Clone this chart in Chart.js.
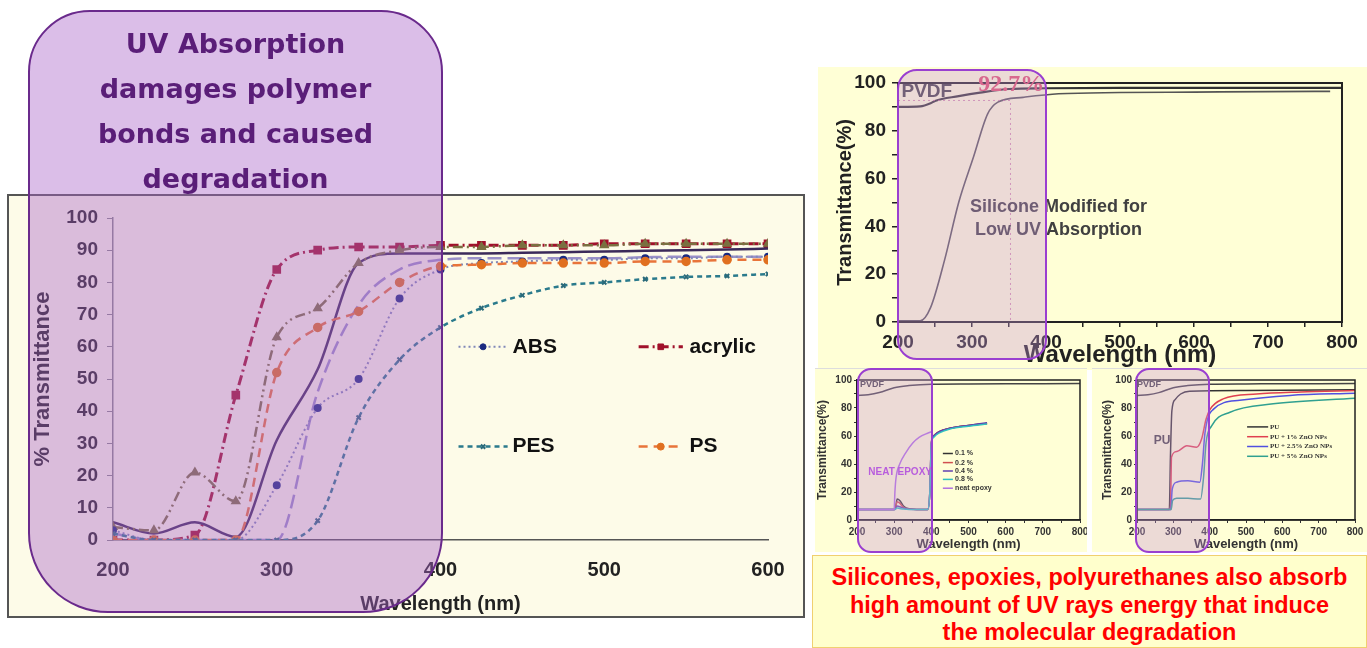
<!DOCTYPE html>
<html>
<head>
<meta charset="utf-8">
<script src="https://cdn.jsdelivr.net/npm/chart.js@4.4.0/dist/chart.umd.min.js"></script>
<style>
  body { margin: 0; width: 1367px; height: 648px; background: #fff; position: relative; overflow: hidden;
         font-family: "Liberation Sans", Arial, sans-serif; }
  .panel { position: absolute; box-sizing: border-box; }
  canvas { display: block; }
  #main { left: 7px; top: 194px; width: 798px; height: 424px; border: 2px solid #555; background: #fdfbe8; }
  #top { left: 818px; top: 67px; width: 549px; height: 303px; background: #ffffd6; }
  #epoxy { left: 815px; top: 368px; width: 272px; height: 184px; background: #ffffd6; border-top: 1px solid #ddd; }
  #pu { left: 1092px; top: 368px; width: 275px; height: 184px; background: #ffffd6; border-top: 1px solid #ddd; }
  .hl { position: absolute; box-sizing: border-box; border: 2.5px solid #9a3fd0; background: rgba(200,150,215,0.35); border-radius: 14px; }
  #uvBox { position: absolute; box-sizing: border-box; left: 28px; top: 10px; width: 415px; height: 603px;
           border: 2px solid #6a2a8c; background: rgba(170,100,200,0.42); border-radius: 62px 62px 80px 80px; }
  #uvBox div { text-align: center; color: #5a1e78; font: bold 27px "DejaVu Sans", sans-serif; line-height: 45px; margin-top: 9px; }
  #note { left: 812px; top: 555px; width: 555px; height: 93px; background: #ffffcc; border: 1px solid #f0d070;
          color: #ff0000; font: bold 23.5px "Liberation Sans", Arial, sans-serif; text-align: center; line-height: 27.5px; padding-top: 8px; }
</style>
</head>
<body>
<div id="main" class="panel"><canvas id="cMain" width="794" height="420"></canvas></div>
<div id="top" class="panel"><canvas id="cTop" width="549" height="303"></canvas></div>
<div id="epoxy" class="panel"><canvas id="cEpoxy" width="272" height="183"></canvas></div>
<div id="pu" class="panel"><canvas id="cPu" width="275" height="183"></canvas></div>
<div id="note" class="panel">Silicones, epoxies, polyurethanes also absorb<br>high amount of UV rays energy that induce<br>the molecular degradation</div>
<div class="hl" style="left:897px; top:69px; width:150px; height:291px; border-radius:20px;"></div>
<div class="hl" style="left:857px; top:368px; width:76px; height:185px;"></div>
<div class="hl" style="left:1135px; top:368px; width:75px; height:185px;"></div>
<div id="uvBox"><div>UV Absorption<br>damages polymer<br>bonds and caused<br>degradation</div></div>

<script>
// ---- main chart: % transmittance of polymer films ----
const wl = [200, 225, 250, 275, 300, 325, 350, 375, 400, 425, 450, 475, 500, 525, 550, 575, 600];
const absT      = [3, 0, 0, 0, 17, 41, 50, 75, 84, 86, 86.5, 87, 87, 87.5, 87.5, 88, 88];
const acrylicT  = [0, 0, 1.5, 45, 84, 90, 91, 91, 91.5, 91.5, 91.5, 91.5, 92, 92, 92, 92, 92];
const pesT      = [2, 0, 0, 0, 0, 6, 38, 56, 66, 72, 76, 79, 80, 81, 81.7, 82, 82.6];
const psT       = [0, 0, 0, 0, 52, 66, 71, 80, 85, 85.5, 86, 86, 86, 86.5, 86.5, 87, 87];
const oliveT    = [4, 3, 21, 12, 63, 72, 86, 90, 91, 91, 91.5, 91.5, 91.5, 92, 92, 92, 92];
const solidT    = [5.5, 2, 5.5, 1, 31, 53, 86, 89, 89, 89, 89.2, 89.4, 89.6, 89.8, 90, 90.2, 90.5];
const longDashT = [2, 0, 0, 0, 0, 46, 73, 84, 87, 87.5, 87.5, 87.5, 87.5, 87.8, 88, 88, 88];

// ---- top right: PVDF vs modified silicone ----
const pvdfWl = [200, 230, 244, 250, 282, 311, 350, 400, 500, 600, 700, 800];
const pvdfT  = [90, 90.2, 91.5, 92.5, 94.5, 96, 97.5, 97.8, 98, 98, 98, 98];
const silWl  = [200, 230, 244, 263, 282, 302, 321, 335, 369, 417, 500, 600, 700, 784];
const silT   = [0.5, 0.5, 6, 26, 50, 69, 87, 92, 94, 95.5, 96, 96.2, 96.4, 96.5];
const guideWl = [200, 352, 352];
const guideT  = [92.7, 92.7, 0];

// ---- bottom left: epoxy nanocomposites ----
const pvdfSmWl = [200, 230, 260, 300, 340, 400, 500, 600, 700, 800];
const pvdfSmT  = [89, 89.5, 91, 94.5, 96, 97, 97.2, 97.3, 97.4, 97.5];
const epWl  = [200, 300, 303, 308, 315, 325, 340, 370, 390, 396, 400, 406, 420, 450, 500, 550];
const ep01  = [7.5, 7.5, 8, 15, 14, 10, 8, 7.5, 7.5, 20, 55, 60, 63, 65.5, 67.5, 69];
const ep02  = [7.5, 7.5, 8, 13, 12, 9, 7.8, 7.5, 7.5, 20, 55, 60, 63, 65.5, 67.5, 69];
const ep04  = [7.5, 7.5, 7.8, 10, 9.5, 8.5, 7.6, 7.5, 7.5, 20, 55, 60, 63, 65.5, 67.5, 69.5];
const ep08  = [7.5, 7.5, 7.6, 8.5, 8.2, 7.8, 7.5, 7.5, 7.5, 20, 54, 59, 62, 65, 67, 68.5];
const neatWl = [200, 300, 302, 305, 315, 331, 350, 367, 390, 400];
const neatT  = [7.5, 7.5, 20, 30, 40, 48, 55, 59, 62, 63];

// ---- bottom right: PU / ZnO ----
const puWl  = [200, 289, 292, 296, 305, 320, 345, 500, 800];
const puT   = [7.5, 7.5, 45, 78, 86, 90, 92, 92.5, 93];
const pu1Wl = [200, 292, 295, 310, 337, 364, 378, 390, 401, 437, 529, 650, 800];
const pu1T  = [7.5, 7.5, 45, 49, 53, 52, 58, 72, 79, 86.5, 90, 91.5, 92.5];
const pu25Wl = [200, 293, 297, 309, 340, 373, 380, 387, 410, 483, 621, 800];
const pu25T  = [7.5, 7.5, 22, 27, 28, 27, 40, 62, 79, 85.5, 89, 90.5];
const pu5Wl = [200, 294, 298, 309, 340, 375, 383, 390, 405, 456, 575, 800];
const pu5T  = [7.5, 7.5, 14, 15.6, 15.5, 15, 30, 55, 67, 77, 83, 87];

const pts = (xs, ys) => xs.map((v, i) => ({x: v, y: ys[i]}));

// text + legend keys drawn in data units
const notes = {
  id: 'notes',
  afterDatasetsDraw(chart, args, opts) {
    const {ctx, chartArea, scales: {x, y}} = chart;
    ctx.save();
    if (opts.frame) {
      ctx.strokeStyle = '#222'; ctx.lineWidth = opts.frame;
      ctx.strokeRect(chartArea.left, chartArea.top, chartArea.right - chartArea.left, chartArea.bottom - chartArea.top);
    }
    (opts.keys || []).forEach(k => {
      const ds = chart.data.datasets[k.ds];
      const x1 = x.getPixelForValue(k.x1), x2 = x.getPixelForValue(k.x2), py = y.getPixelForValue(k.y);
      ctx.strokeStyle = ds.borderColor; ctx.lineWidth = ds.borderWidth;
      ctx.setLineDash(ds.borderDash || []);
      ctx.beginPath(); ctx.moveTo(x1, py); ctx.lineTo(x2, py); ctx.stroke();
      ctx.setLineDash([]);
      if (ds.pointRadius) {
        ctx.fillStyle = ds.pointBackgroundColor; ctx.strokeStyle = ds.pointBorderColor || ds.pointBackgroundColor;
        ctx.lineWidth = ds.pointBorderWidth || 1;
        Chart.helpers.drawPoint(ctx, {pointStyle: ds.pointStyle, radius: ds.pointRadius, rotation: 0, borderWidth: ds.pointBorderWidth || 1}, (x1 + x2) / 2, py);
      }
      ctx.fillStyle = k.color || '#111'; ctx.font = k.font;
      ctx.textAlign = 'left'; ctx.textBaseline = 'middle';
      ctx.fillText(ds.label, x.getPixelForValue(k.tx), py);
    });
    (opts.texts || []).forEach(t => {
      ctx.fillStyle = t.color; ctx.font = t.font;
      ctx.textAlign = t.align || 'center'; ctx.textBaseline = 'middle';
      ctx.fillText(t.text, x.getPixelForValue(t.x), y.getPixelForValue(t.y));
    });
    ctx.restore();
  }
};

function line(label, data, color, width, dash, extra) {
  return Object.assign({label: label, data: data, borderColor: color, borderWidth: width, borderDash: dash,
    pointRadius: 0, fill: false, cubicInterpolationMode: 'monotone'}, extra || {});
}

function fitY(w) { return s => { s.width = w; s.paddingTop = 0; s.paddingBottom = 0; }; }
function fitX(h) { return s => { s.height = h; s.paddingLeft = 0; s.paddingRight = 0; }; }

// ---------- main chart ----------
new Chart(document.getElementById('cMain'), {
  type: 'line',
  data: {
    datasets: [
      line('PES', pts(wl, pesT), '#2a7a8c', 2.5, [5, 4], {pointRadius: 3, pointStyle: 'crossRot', pointBorderColor: '#2a6a7a', pointBackgroundColor: '#2a6a7a', pointBorderWidth: 2}),
      line('PS', pts(wl, psT), '#e8743a', 2.5, [9, 6], {pointRadius: 3.5, pointStyle: 'circle', pointBackgroundColor: '#e07020', pointBorderColor: '#e07020'}),
      line('ABS', pts(wl, absT), '#8088b8', 2, [2, 3], {pointRadius: 3, pointStyle: 'circle', pointBackgroundColor: '#1a2a80', pointBorderColor: '#1a2a80'}),
      line('', pts(wl, longDashT), '#9a90c8', 2.5, [14, 6]),
      line('', pts(wl, oliveT), '#7a7040', 2.5, [10, 4, 2, 4, 2, 4], {pointRadius: 3.5, pointStyle: 'triangle', pointBackgroundColor: '#7a7040', pointBorderColor: '#7a7040'}),
      line('', pts(wl, solidT), '#3b2a5a', 2.5, []),
      line('acrylic', pts(wl, acrylicT), '#a0102a', 3, [10, 4, 2, 4], {pointRadius: 4, pointStyle: 'rect', pointBackgroundColor: '#a0102a', pointBorderColor: '#a0102a'})
    ]
  },
  options: {
    responsive: false, animation: false,
    layout: {padding: {top: 22, right: 35, left: 0, bottom: 0}},
    plugins: {
      legend: {display: false}, tooltip: {enabled: false},
      notes: {
        keys: [
          {ds: 2, x1: 411, x2: 441, y: 60, tx: 444, font: 'bold 21px "Liberation Sans", Arial'},
          {ds: 6, x1: 521, x2: 548, y: 60, tx: 552, font: 'bold 21px "Liberation Sans", Arial'},
          {ds: 0, x1: 411, x2: 441, y: 29, tx: 444, font: 'bold 21px "Liberation Sans", Arial'},
          {ds: 1, x1: 521, x2: 548, y: 29, tx: 552, font: 'bold 21px "Liberation Sans", Arial'}
        ]
      }
    },
    scales: {
      x: {
        type: 'linear', min: 200, max: 600, afterFit: fitX(76),
        ticks: {stepSize: 100, padding: 18, color: '#222', font: {size: 20, weight: 'bold', family: '"Liberation Sans", Arial'}},
        grid: {drawOnChartArea: false, drawTicks: false},
        border: {color: '#555', width: 1.5},
        title: {display: true, text: 'Wavelength (nm)', color: '#222', padding: 0, font: {size: 20, weight: 'bold', family: '"Liberation Sans", Arial'}}
      },
      y: {
        min: 0, max: 100, afterFit: fitY(104),
        ticks: {stepSize: 10, padding: 9, color: '#222', font: {size: 19, weight: 'bold', family: '"Liberation Sans", Arial'}},
        grid: {drawOnChartArea: false, drawTicks: true, tickLength: 6, color: '#888'},
        border: {color: '#888', width: 1.5},
        title: {display: true, text: '% Transmittance', color: '#222', padding: {top: 21, bottom: 0}, font: {size: 22, weight: 'bold', family: '"Liberation Sans", Arial'}}
      }
    }
  },
  plugins: [notes]
});

// ---------- top right chart ----------
new Chart(document.getElementById('cTop'), {
  type: 'line',
  data: {
    datasets: [
      line('guide', pts(guideWl, guideT), 'rgba(200,120,160,0.8)', 1, [2, 3], {cubicInterpolationMode: 'default', tension: 0}),
      line('Silicone', pts(silWl, silT), '#555', 1.6, []),
      line('PVDF', pts(pvdfWl, pvdfT), '#333', 2.2, [])
    ]
  },
  options: {
    responsive: false, animation: false,
    layout: {padding: {top: 16, right: 25, left: 0, bottom: 0}},
    plugins: {
      legend: {display: false}, tooltip: {enabled: false},
      notes: {
        frame: 2,
        texts: [
          {x: 239, y: 96.2, text: 'PVDF', color: '#444', font: 'bold 19px "Liberation Sans", Arial'},
          {x: 353, y: 99.2, text: '92.7%', color: '#e05068', font: 'bold 24px "Liberation Serif", serif'},
          {x: 417, y: 48.1, text: 'Silicone Modified for', color: '#404040', font: 'bold 18px "Liberation Sans", Arial'},
          {x: 417, y: 38.5, text: 'Low UV Absorption', color: '#404040', font: 'bold 18px "Liberation Sans", Arial'}
        ]
      }
    },
    scales: {
      x: {
        type: 'linear', min: 200, max: 800, afterFit: fitX(48),
        ticks: {stepSize: 50, padding: 4, color: '#222', maxRotation: 0, minRotation: 0, autoSkip: false,
                callback: v => v % 100 === 0 ? v : '',
                font: {size: 19, weight: 'bold', family: '"Liberation Sans", Arial'}},
        grid: {drawOnChartArea: false, tickLength: 5, color: '#222', lineWidth: 1.5},
        border: {color: '#222', width: 2},
        title: {display: true, text: 'Wavelength (nm)', color: '#222', padding: 0, font: {size: 24, weight: 'bold', family: '"Liberation Sans", Arial'}}
      },
      y: {
        min: 0, max: 100, afterFit: fitY(80),
        ticks: {stepSize: 10, padding: 6, color: '#222', autoSkip: false, callback: v => v % 20 === 0 ? v : '',
                font: {size: 19, weight: 'bold', family: '"Liberation Sans", Arial'}},
        grid: {drawOnChartArea: false, tickLength: 6, color: '#222', lineWidth: 1.5},
        border: {color: '#222', width: 2},
        title: {display: true, text: 'Transmittance(%)', color: '#222', padding: {top: 15, bottom: 0}, font: {size: 20, weight: 'bold', family: '"Liberation Sans", Arial'}}
      }
    }
  },
  plugins: [notes]
});

// ---------- small charts ----------
function smallScales(yPad, yWidth) {
  const f = (size) => ({size: size, weight: 'bold', family: '"Liberation Sans", Arial'});
  return {
    x: {
      type: 'linear', min: 200, max: 800, afterFit: fitX(32),
      ticks: {stepSize: 50, padding: 3, color: '#333', maxRotation: 0, minRotation: 0, autoSkip: false,
              callback: v => v % 100 === 0 ? v : '', font: f(10)},
      grid: {drawOnChartArea: false, tickLength: 3, color: '#333'},
      border: {color: '#222', width: 1.5},
      title: {display: true, text: 'Wavelength (nm)', color: '#333', padding: 0, font: f(13)}
    },
    y: {
      min: 0, max: 100, afterFit: fitY(yWidth),
      ticks: {stepSize: 10, padding: 2, color: '#333', autoSkip: false, callback: v => v % 20 === 0 ? v : '', font: f(10)},
      grid: {drawOnChartArea: false, tickLength: 3, color: '#333'},
      border: {color: '#222', width: 1.5},
      title: {display: true, text: 'Transmittance(%)', color: '#333', padding: {top: yPad, bottom: 0}, font: f(12)}
    }
  };
}

new Chart(document.getElementById('cEpoxy'), {
  type: 'line',
  data: {
    datasets: [
      line('PVDF', pts(pvdfSmWl, pvdfSmT), '#444', 1.5, []),
      line('neat epoxy', pts(neatWl, neatT), '#b070e0', 1.5, []),
      line('0.8 %', pts(epWl, ep08), '#30c0c0', 1.5, []),
      line('0.4 %', pts(epWl, ep04), '#6040b0', 1.5, []),
      line('0.2 %', pts(epWl, ep02), '#d05050', 1.5, []),
      line('0.1 %', pts(epWl, ep01), '#333', 1.5, [])
    ]
  },
  options: {
    responsive: false, animation: false,
    layout: {padding: {top: 11, right: 7, left: 0, bottom: 0}},
    plugins: {
      legend: {display: false}, tooltip: {enabled: false},
      notes: {
        frame: 1.5,
        keys: [
          {ds: 5, x1: 431, x2: 458, y: 47.5, tx: 464, font: 'bold 7px "Liberation Sans", Arial', color: '#333'},
          {ds: 4, x1: 431, x2: 458, y: 41, tx: 464, font: 'bold 7px "Liberation Sans", Arial', color: '#333'},
          {ds: 3, x1: 431, x2: 458, y: 35, tx: 464, font: 'bold 7px "Liberation Sans", Arial', color: '#333'},
          {ds: 2, x1: 431, x2: 458, y: 29, tx: 464, font: 'bold 7px "Liberation Sans", Arial', color: '#333'},
          {ds: 1, x1: 431, x2: 458, y: 22.7, tx: 464, font: 'bold 7px "Liberation Sans", Arial', color: '#333'}
        ],
        texts: [
          {x: 316, y: 34, text: 'NEAT EPOXY', color: '#b040e0', font: 'bold 10px "Liberation Sans", Arial'},
          {x: 208, y: 97, text: 'PVDF', color: '#444', font: 'bold 9px "Liberation Sans", Arial', align: 'left'}
        ]
      }
    },
    scales: smallScales(0, 42)
  },
  plugins: [notes]
});

new Chart(document.getElementById('cPu'), {
  type: 'line',
  data: {
    datasets: [
      line('PVDF', pts(pvdfSmWl, pvdfSmT), '#444', 1.5, []),
      line('PU + 5% ZnO NPs', pts(pu5Wl, pu5T), '#30a090', 1.5, []),
      line('PU + 2.5% ZnO NPs', pts(pu25Wl, pu25T), '#5050e0', 1.5, []),
      line('PU + 1% ZnO NPs', pts(pu1Wl, pu1T), '#e04050', 1.5, []),
      line('PU', pts(puWl, puT), '#333', 1.5, [])
    ]
  },
  options: {
    responsive: false, animation: false,
    layout: {padding: {top: 11, right: 12, left: 0, bottom: 0}},
    plugins: {
      legend: {display: false}, tooltip: {enabled: false},
      notes: {
        frame: 1.5,
        keys: [
          {ds: 4, x1: 503, x2: 561, y: 66.5, tx: 566, font: 'bold 7px "Liberation Serif", serif', color: '#333'},
          {ds: 3, x1: 503, x2: 561, y: 59.5, tx: 566, font: 'bold 7px "Liberation Serif", serif', color: '#333'},
          {ds: 2, x1: 503, x2: 561, y: 52.5, tx: 566, font: 'bold 7px "Liberation Serif", serif', color: '#333'},
          {ds: 1, x1: 503, x2: 561, y: 45.5, tx: 566, font: 'bold 7px "Liberation Serif", serif', color: '#333'}
        ],
        texts: [
          {x: 269, y: 57, text: 'PU', color: '#444', font: 'bold 12px "Liberation Sans", Arial'},
          {x: 200, y: 97, text: 'PVDF', color: '#444', font: 'bold 9px "Liberation Sans", Arial', align: 'left'}
        ]
      }
    },
    scales: smallScales(8, 45)
  },
  plugins: [notes]
});
</script>
</body>
</html>
